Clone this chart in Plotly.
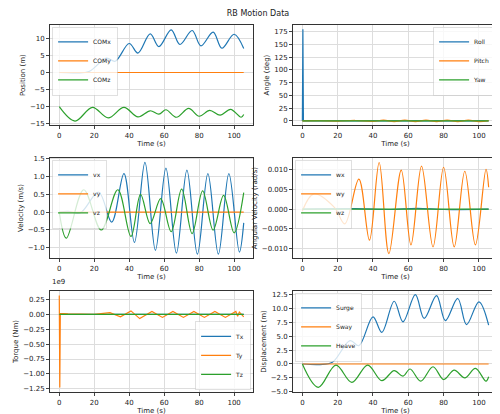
import plotly.graph_objects as go

# COMx / Surge extrema
cx_t = [0, 10, 17, 27, 32, 40, 45, 52, 57, 64, 69, 76, 81, 88, 93, 100, 105.5]
cx_v = [0, -0.1, 0.3, 4.2, 3.3, 8.5, 5.7, 11.3, 7.6, 12.5, 8.2, 12.3, 7.8, 11.8, 7.1, 11.2, 7.0]
cy_t = [0, 105.5]
cy_v = [0, 0]
cz_t = [0, 9, 19, 28, 37, 45, 52, 57, 61, 67, 74, 80, 86, 92, 98, 104, 105.5]
cz_v = [-10, -14.2, -10.2, -13.3, -10.2, -13.0, -11.2, -12.2, -10.9, -13.1, -10.5, -12.8, -11.1, -12.5, -10.8, -13.1, -12.3]
heave_v = [-0.0, -4.2, -0.2, -3.3, -0.2, -3.0, -1.2, -2.2, -0.9, -3.1, -0.5, -2.8, -1.1, -2.5, -0.8, -3.1, -2.3]

roll_t = [0, 0.3, 0.6, 105.5]
roll_v = [0, 180, 0, 0]
pitch_t = [0, 10, 20, 30, 40, 46, 52, 58, 64, 70, 76, 82, 88, 94, 100, 105.5]
pitch_v = [0, 0.3, -0.3, 0.8, -1, 1.5, -1.5, 1.5, -1.5, 1.5, -1.5, 1.5, -1.5, 1.5, -1.5, 0.5]

vx_t = [0, 5, 12, 22.5, 30, 37, 43, 49, 55, 61, 67, 73, 79, 85, 91, 97, 103, 105.5]
vx_v = [0, 0.02, -0.02, 0.56, -0.28, 1.08, -0.85, 1.4, -1.07, 1.24, -1.15, 1.18, -1.18, 1.08, -1.18, 1.08, -1.12, -0.3]
vz_t = [0, 4, 14, 24, 33.5, 41, 46.5, 52, 58, 64, 70, 76, 82, 88, 94, 100, 105.5]
vz_v = [0, -0.73, 0.63, -0.5, 0.63, -0.68, 0.5, -0.32, 0.38, -0.55, 0.65, -0.6, 0.6, -0.5, 0.47, -0.58, 0.55]

wy_t = [0, 6.5, 18, 24, 32, 38, 43.5, 49, 56, 61.5, 67.5, 74, 80, 86, 92, 98, 104, 105.5]
wy_v = [-0.0005, 0.0038, 0.0005, -0.0037, 0.0075, -0.0078, 0.0117, -0.0112, 0.0098, -0.009,
        0.0108, -0.0095, 0.0105, -0.0095, 0.0095, -0.009, 0.0100, 0.0055]
wx_t = [0, 30, 50, 65, 80, 105.5]
wx_v = [0, 0.0001, -0.0001, 0.0002, -0.0001, 0]

ty_t = [0, 0.3, 0.6, 5, 20, 29, 35, 41, 46, 53, 59, 65, 71, 77, 83, 89, 95, 101, 102, 103, 105.5]
ty_v = [0.32, -1.23, 0.02, 0.01, 0, 0.03, -0.04, 0.06, -0.07, 0.05, -0.05, 0.05, -0.05, 0.05,
        -0.05, 0.05, -0.05, 0.05, -0.03, 0.04, -0.04]

C = ['#1f77b4', '#ff7f0e', '#2ca02c']
xd = [[0.084, 0.49], [0.57, 0.98]]
yd = [[0.717, 0.964], [0.391, 0.638], [0.063, 0.312]]

fig = go.Figure()
panels = [
    ([(cx_t, cx_v, 'COMx', 'spline'), (cy_t, cy_v, 'COMy', 'linear'), (cz_t, cz_v, 'COMz', 'spline')], 'Position (m)', [-15.5, 14], 5, 'tl', None),
    ([(roll_t, roll_v, 'Roll', 'linear'), (pitch_t, pitch_v, 'Pitch', 'spline'), (cy_t, cy_v, 'Yaw', 'linear')], 'Angle (deg)', [-9, 189], 25, 'tr', None),
    ([(vx_t, vx_v, 'vx', 'spline'), (cy_t, cy_v, 'vy', 'linear'), (vz_t, vz_v, 'vz', 'spline')], 'Velocity (m/s)', [-1.3, 1.53], 0.5, 'tl', '.1f'),
    ([(wx_t, wx_v, 'wx', 'spline'), (wy_t, wy_v, 'wy', 'spline'), (cy_t, cy_v, 'wz', 'linear')], 'Angular Velocity (rad/s)', [-0.0124, 0.0129], 0.005, 'tl', '.3f'),
    ([(cy_t, cy_v, 'Tx', 'linear'), (ty_t, ty_v, 'Ty', 'linear'), (cy_t, cy_v, 'Tz', 'linear')], 'Torque (Nm)', [-1.31, 0.4], 0.25, 'br', '.2f'),
    ([(cx_t, cx_v, 'Surge', 'spline'), (cy_t, cy_v, 'Sway', 'linear'), (cz_t, heave_v, 'Heave', 'spline')], 'Displacement (m)', [-5.1, 13.2], 2.5, 'tl', '.1f'),
]
for i, (series, ytitle, yr, dt, lpos, fmt) in enumerate(panels):
    r, c = divmod(i, 2)
    n = i + 1
    sx = '' if n == 1 else str(n)
    lg = 'legend' if n == 1 else 'legend%d' % n
    for j, (t, v, name, shape) in enumerate(series):
        fig.add_trace(go.Scatter(x=t, y=v, name=name, mode='lines',
                                 line=dict(color=C[j], width=1.2, shape=shape, smoothing=1.0),
                                 xaxis='x' + sx, yaxis='y' + sx, legend=lg))
    ax = dict(showline=True, mirror=True, linecolor='#333', linewidth=0.8, showgrid=True,
              gridcolor='#ddd', ticks='outside', ticklen=3, tickfont=dict(size=7), zeroline=False)
    fig.layout['xaxis' + sx] = dict(ax, domain=xd[c], anchor='y' + sx, range=[-5.3, 110.8], dtick=20,
                                    title=dict(text='Time (s)', font=dict(size=7), standoff=2))
    yax = dict(ax, domain=yd[r], anchor='x' + sx, range=yr, dtick=dt,
               title=dict(text=ytitle, font=dict(size=7), standoff=3))
    if fmt:
        yax['tickformat'] = fmt
    fig.layout['yaxis' + sx] = yax
    if lpos == 'tl':
        lx, ly, xa, ya = xd[c][0] + 0.005, yd[r][1] - 0.005, 'left', 'top'
    elif lpos == 'tr':
        lx, ly, xa, ya = xd[c][1] - 0.005, yd[r][1] - 0.005, 'right', 'top'
    else:
        lx, ly, xa, ya = xd[c][1] - 0.005, yd[r][0] + 0.005, 'right', 'bottom'
    fig.layout[lg] = dict(x=lx, y=ly, xanchor=xa, yanchor=ya, font=dict(size=6),
                          bgcolor='rgba(255,255,255,0.8)', bordercolor='#ccc', borderwidth=0.6,
                          tracegroupgap=0, itemwidth=30)

fig.add_annotation(text='1e9', x=0.084, y=0.318, xref='paper', yref='paper', xanchor='left',
                   yanchor='bottom', showarrow=False, font=dict(size=7))
fig.update_layout(width=500, height=414, margin=dict(l=0, r=0, t=0, b=0),
                  title=dict(text='RB Motion Data', x=0.5, y=0.993, yanchor='top', font=dict(size=8)),
                  plot_bgcolor='white', paper_bgcolor='white',
                  font=dict(family='DejaVu Sans', color='#222'))
fig.write_html('out.html')
